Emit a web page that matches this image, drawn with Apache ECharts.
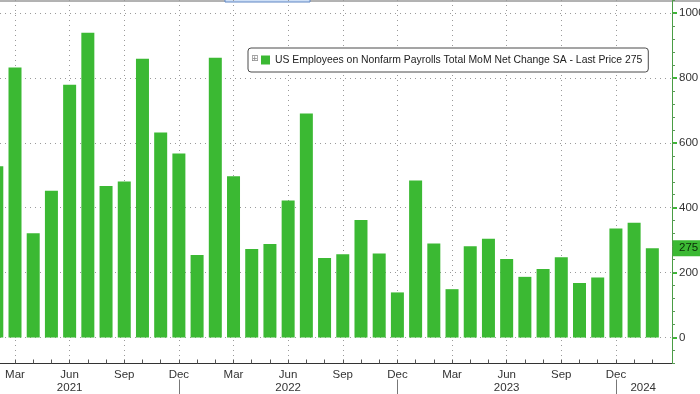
<!DOCTYPE html>
<html><head><meta charset="utf-8">
<script src="https://cdn.jsdelivr.net/npm/echarts@6/dist/echarts.min.js"></script>
<style>html,body{margin:0;padding:0;background:#fff}#c{width:700px;height:394px}</style>
</head><body><div id="c"></div>
<script>
// ---- data ----
const months = [
  'Feb 2021','Mar 2021','Apr 2021','May 2021','Jun 2021','Jul 2021','Aug 2021','Sep 2021','Oct 2021','Nov 2021','Dec 2021',
  'Jan 2022','Feb 2022','Mar 2022','Apr 2022','May 2022','Jun 2022','Jul 2022','Aug 2022','Sep 2022','Oct 2022','Nov 2022','Dec 2022',
  'Jan 2023','Feb 2023','Mar 2023','Apr 2023','May 2023','Jun 2023','Jul 2023','Aug 2023','Sep 2023','Oct 2023','Nov 2023','Dec 2023',
  'Jan 2024','Feb 2024'
];
const payrolls = [
  528, 832, 321, 452, 779, 939, 467, 481, 859, 632, 567,
  254, 862, 497, 273, 288, 422, 690, 245, 257, 362, 259, 139,
  484, 290, 149, 281, 304, 242, 187, 211, 247, 168, 185, 336,
  354, 275
];
const quarterMonths = ['Mar', 'Jun', 'Sep', 'Dec'];
const yTickValues = [0, 200, 400, 600, 800, 1000];
const seriesName = 'US Employees on Nonfarm Payrolls Total MoM Net Change SA - Last Price 275';
const lastPrice = 275;

// ---- derived ----
const idx = months.map((m, i) => i);
const monthOf = i => months[i].split(' ')[0];
const quarterIdx = idx.filter(i => quarterMonths.includes(monthOf(i)));
const years = [...new Set(months.map(m => m.split(' ')[1]))];
const yearPos = years.map(y => {
  const j = months.indexOf('Jun ' + y);
  if (j >= 0) return j;
  const ids = idx.filter(i => months[i].endsWith(y));
  return (ids[0] + ids[ids.length - 1]) / 2;
});
const yearSep = years.map(y => months.indexOf('Dec ' + y)).filter(i => i >= 0);
const yMinor = []; for (let v = -80; v <= 1040; v += 40) yMinor.push(v);

const X_MIN = 0.176, X_MAX = 37.08;
const GREEN = '#3bb933';
const FONT = 'Liberation Sans';

const chart = echarts.init(document.getElementById('c'), null, {renderer: 'canvas'});
const baseX = {type: 'value', min: X_MIN, max: X_MAX, position: 'bottom'};
const baseY = {type: 'value', position: 'right', min: -80, max: 1040};
chart.setOption({
  animation: false,
  backgroundColor: '#ffffff',
  textStyle: {fontFamily: FONT},
  grid: {left: 0, right: 28, top: 0, bottom: 30.5, containLabel: false, outerBoundsMode: 'none'},
  legend: {
    data: [seriesName], left: 248, top: 48, orient: 'horizontal',
    padding: [7, 6, 7, 13], itemWidth: 9, itemHeight: 9, icon: 'rect',
    backgroundColor: '#fff', borderColor: '#4a4a4a', borderWidth: 1, borderRadius: 3,
    textStyle: {fontFamily: FONT, fontSize: 10.4, color: '#222'}
  },
  graphic: [
    {type: 'line', shape: {x1: 0, y1: 1, x2: 700, y2: 1}, style: {stroke: '#666', lineWidth: 1}, silent: true},
    {type: 'rect', shape: {x: 225, y: -2, width: 85, height: 4}, style: {fill: '#cfe0f6', stroke: '#5f86c4', lineWidth: 1}, silent: true},
    {type: 'text', left: 251, top: 54, style: {text: '⊞', fontSize: 9, fill: '#888', fontFamily: 'DejaVu Sans'}, z: 100}
  ],
  xAxis: [
    Object.assign({}, baseX, {
      axisLine: {show: true, onZero: false, lineStyle: {color: '#333', width: 1}},
      axisTick: {show: false, customValues: quarterIdx},
      splitLine: {show: true, lineStyle: {color: '#9a9a9a', type: [1, 4], width: 1}},
      axisLabel: {customValues: quarterIdx, formatter: v => monthOf(v), margin: 5,
        fontSize: 11.5, color: '#333', fontFamily: FONT}
    }),
    Object.assign({}, baseX, {
      axisLine: {show: false, onZero: false},
      axisTick: {show: true, inside: true, length: 4, customValues: idx, lineStyle: {color: '#555'}},
      splitLine: {show: false},
      axisLabel: {show: false}
    }),
    Object.assign({}, baseX, {
      offset: 16,
      axisLine: {show: false, onZero: false},
      axisTick: {show: true, inside: false, length: 16, customValues: yearSep, lineStyle: {color: '#777'}},
      splitLine: {show: false},
      axisLabel: {customValues: yearPos, formatter: v => years[yearPos.indexOf(v)], margin: 2,
        fontSize: 11.5, color: '#333', fontFamily: FONT}
    })
  ],
  yAxis: [
    Object.assign({}, baseY, {
      axisLine: {show: true, onZero: false, lineStyle: {color: '#4a9d44', width: 1}},
      axisTick: {show: true, length: 5, customValues: yTickValues, lineStyle: {color: GREEN, width: 2}},
      splitLine: {show: true, lineStyle: {color: '#9a9a9a', type: [1, 4], width: 1}},
      axisLabel: {customValues: yTickValues, formatter: v => String(v), margin: 7, fontSize: 11.5, color: '#333', fontFamily: FONT}
    }),
    Object.assign({}, baseY, {
      axisLine: {show: false, onZero: false},
      axisTick: {show: true, length: 3, customValues: yMinor, lineStyle: {color: '#5a9a56'}},
      splitLine: {show: false},
      axisLabel: {show: false}
    }),
    Object.assign({}, baseY, {
      axisLine: {show: false, onZero: false},
      axisTick: {show: false},
      splitLine: {show: false},
      axisLabel: {customValues: [lastPrice], formatter: v => String(v), margin: 1,
        backgroundColor: GREEN, color: '#0b2a08', fontSize: 11.5, fontFamily: FONT,
        padding: [2, 8, 2, 6]}
    })
  ],
  series: [{
    name: seriesName, type: 'bar', xAxisIndex: 0, yAxisIndex: 0,
    barWidth: 13,
    itemStyle: {color: GREEN},
    data: payrolls.map((v, i) => [i, v])
  }]
});
</script></body></html>
